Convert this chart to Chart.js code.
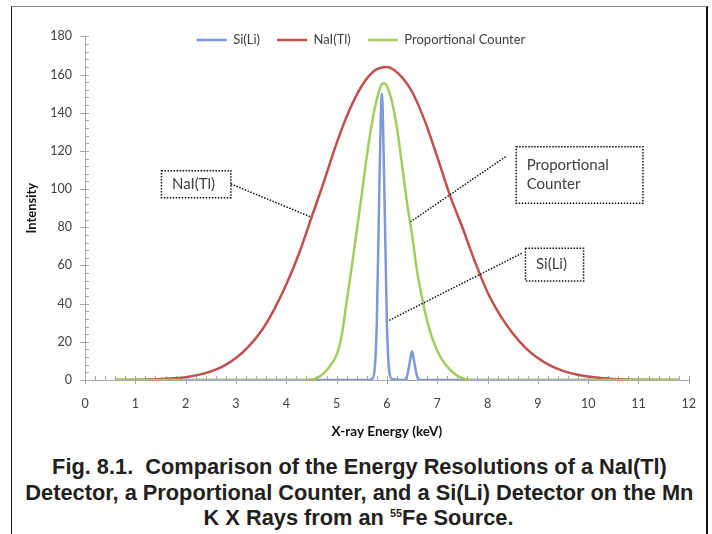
<!DOCTYPE html>
<html>
<head>
<meta charset="utf-8">
<script src="https://cdn.jsdelivr.net/npm/chart.js@4.4.1/dist/chart.umd.min.js"></script>
<style>
    body { margin: 0; background: #fff; }
    .page { position: relative; width: 712px; height: 534px; overflow: hidden; }
    .frame {
        position: absolute; left: 11px; top: 6px; width: 694px; height: 600px;
        border-left: 1.5px solid #111; border-top: 1.5px solid #8a8a8a; border-right: 2.5px solid #111;
    }
    #fig { position: absolute; left: 0; top: 0; }
    .caption {
        position: absolute; left: 11px; width: 696px; top: 454px;
        text-align: center; color: #231f20;
        font: bold 22px/25.5px "Liberation Sans", Arial, sans-serif;
    }
    .caption span { display: inline-block; transform: scaleX(0.99); }
    .caption sup { font-size: 11px; line-height: 0; vertical-align: 8px; }
</style>
</head>
<body>
<div class="page">
    <div class="frame"></div>
    <canvas id="fig" width="712" height="445"></canvas>
    <div class="caption"><span>Fig. 8.1.&nbsp; Comparison of the Energy Resolutions of a NaI(Tl)</span><br><span>Detector, a Proportional Counter, and a Si(Li) Detector on the Mn</span><br><span>K X Rays from an <sup>55</sup>Fe Source.</span></div>
</div>
<script>
// Series (energy in keV, intensity in counts)
const seriesNames = ['Si(Li)', 'NaI(Tl)', 'Proportional Counter'];

const siEnergy = [0.6, 5.65, 5.7, 5.75, 5.8, 5.85, 5.9, 5.95, 6.0, 6.05, 6.1, 6.35, 6.4, 6.45, 6.5, 6.55, 6.6, 6.65, 11.8];
const siCounts = [0, 0, 0.5, 4, 30, 100, 150, 100, 30, 4, 0.5, 0, 2, 8.5, 15, 8.5, 2, 0, 0];

const naiEnergy = [0.6, 1.0, 1.25, 1.5, 1.75, 2.0, 2.25, 2.5, 2.75, 3.0, 3.25, 3.5, 3.75, 4.0, 4.25, 4.5, 4.75, 5.0, 5.25, 5.5, 5.75, 6.0,
    6.25, 6.5, 6.75, 7.0, 7.25, 7.5, 7.75, 8.0, 8.25, 8.5, 8.75, 9.0, 9.25, 9.5, 9.75, 10.0, 10.25, 10.5, 11.0, 11.8];
const naiCounts = [0, 0.1, 0.2, 0.5, 0.9, 1.5, 2.7, 4.5, 7.3, 11.5, 17.5, 25.5, 36.5, 50, 66, 85, 104, 124, 141, 154, 162, 164,
    160, 151, 136, 117, 97, 80, 62, 46, 34, 24.5, 17, 11.5, 7.5, 4.8, 3, 1.8, 1, 0.5, 0.1, 0];

const propEnergy = [0.6, 4.4, 4.5, 4.6, 4.7, 4.8, 4.9, 5.0, 5.1, 5.2, 5.3, 5.4, 5.5, 5.6, 5.7, 5.8, 5.9, 5.95, 6.0,
    6.1, 6.2, 6.3, 6.4, 6.5, 6.6, 6.7, 6.8, 6.9, 7.0, 7.1, 7.2, 7.3, 7.4, 7.5, 7.6, 7.8, 11.8];
const propCounts = [0, 0, 0.3, 1, 2.5, 5, 8.5, 13, 23, 41, 59, 78, 97, 117, 134, 147, 155, 155.5, 154,
    146, 132, 113, 93, 76, 57, 43, 31, 22, 15.5, 10.5, 7, 4.3, 2.2, 1, 0.3, 0, 0];

const energyTicks = [0, 1, 2, 3, 4, 5, 6, 7, 8, 9, 10, 11, 12];
const intensityTicks = [0, 20, 40, 60, 80, 100, 120, 140, 160, 180];

// Callout boxes, in data units: box = [x1, y1, x2, y2]
const callouts = [
    { text: ['NaI(Tl)'], box: [1.52, 109.6, 2.9, 95.5], from: [2.9, 102.7], to: [4.48, 85.5] },
    { text: ['Proportional', 'Counter'], box: [8.57, 122.2, 11.09, 92.6], from: [8.36, 117], to: [6.47, 82.9] },
    { text: ['Si(Li)'], box: [8.755, 69, 9.91, 51.9], from: [8.68, 66.4], to: [6.02, 30.9] }
];

const axisGrey = '#a8a8a8';
const labelColor = '#404040';
const toPoints = (xs, ys) => xs.map((v, i) => ({ x: v, y: ys[i] }));

Chart.defaults.font.family = 'Lato, "Open Sans", sans-serif';

// minor / major tick marks, Excel style
const axisTicks = {
    id: 'axisTicks',
    beforeDatasetsDraw(chart) {
        const { ctx, chartArea, scales: { x, y } } = chart;
        ctx.save();
        ctx.strokeStyle = axisGrey;
        ctx.lineWidth = 1;
        ctx.beginPath();
        for (let i = 0; i <= 60; i++) {
            const px = Math.round(x.getPixelForValue(i * 0.2)) + 0.5;
            ctx.moveTo(px, chartArea.bottom - 4);
            ctx.lineTo(px, chartArea.bottom + (i % 5 === 0 ? 4 : 0));
        }
        for (let j = 0; j <= 45; j++) {
            const py = Math.round(y.getPixelForValue(j * 4)) + 0.5;
            ctx.moveTo(chartArea.left - (j % 5 === 0 ? 5 : 0), py);
            ctx.lineTo(chartArea.left + 4, py);
        }
        ctx.stroke();
        ctx.restore();
    }
};

const calloutPlugin = {
    id: 'callouts',
    afterDatasetsDraw(chart) {
        const { ctx, scales: { x, y } } = chart;
        ctx.save();
        callouts.forEach(c => {
            const left = x.getPixelForValue(c.box[0]);
            const top = y.getPixelForValue(c.box[1]);
            const right = x.getPixelForValue(c.box[2]);
            const bottom = y.getPixelForValue(c.box[3]);
            ctx.setLineDash([1.5, 1.5]);
            ctx.lineWidth = 1.5;
            ctx.strokeStyle = '#111';
            ctx.strokeRect(left, top, right - left, bottom - top);
            ctx.beginPath();
            ctx.moveTo(x.getPixelForValue(c.from[0]), y.getPixelForValue(c.from[1]));
            ctx.lineTo(x.getPixelForValue(c.to[0]), y.getPixelForValue(c.to[1]));
            ctx.stroke();
            ctx.setLineDash([]);
            ctx.fillStyle = labelColor;
            ctx.font = '15px Lato';
            ctx.textAlign = 'left';
            ctx.textBaseline = 'middle';
            const mid = (top + bottom) / 2;
            c.text.forEach((t, i) => ctx.fillText(t, left + 10.5, mid + (i - (c.text.length - 1) / 2) * 19));
        });
        ctx.restore();
    }
};

// the legend takes no layout room; put its box over the top of the plot, centred like the original
const legendShift = {
    id: 'legendShift',
    afterLayout(chart) {
        const lg = chart.legend;
        lg.top = 16.5;
        lg.bottom = 63;
        lg.height = 46.5;
        lg.left += 14;
        lg.right += 14;
    }
};

new Chart(document.getElementById('fig'), {
    type: 'line',
    data: {
        datasets: [
            { label: seriesNames[0], data: toPoints(siEnergy, siCounts), borderColor: '#7d99d6', order: 3 },
            { label: seriesNames[1], data: toPoints(naiEnergy, naiCounts), borderColor: '#c0504d', order: 2 },
            { label: seriesNames[2], data: toPoints(propEnergy, propCounts), borderColor: '#a2cd5e', order: 1 }
        ]
    },
    options: {
        responsive: false,
        animation: false,
        layout: { padding: { left: 0, right: 18, top: 35.4, bottom: 0 } },
        datasets: {
            line: {
                borderWidth: 2.5,
                pointRadius: 0,
                pointStyle: 'line',
                fill: false,
                cubicInterpolationMode: 'monotone'
            }
        },
        plugins: {
            tooltip: { enabled: false },
            legend: {
                position: 'top',
                maxHeight: 1,
                labels: {
                    usePointStyle: true,
                    pointStyle: 'line',
                    pointStyleWidth: 30,
                    padding: 17,
                    color: labelColor,
                    font: { size: 13 },
                    sort: (a, b) => a.datasetIndex - b.datasetIndex
                }
            }
        },
        scales: {
            x: {
                type: 'linear',
                min: 0,
                max: 12,
                afterBuildTicks: s => { s.ticks = energyTicks.map(v => ({ value: v })); },
                afterFit: s => { s.height = 65; },
                grid: { display: false, drawTicks: false },
                border: { color: axisGrey },
                ticks: { padding: 16, color: labelColor, font: { size: 12.5 } },
                title: {
                    display: true,
                    text: 'X-ray Energy (keV)',
                    color: '#111',
                    font: { size: 13.5, weight: 'bold' },
                    padding: { top: 0, bottom: 5 }
                }
            },
            y: {
                min: 0,
                max: 180,
                afterBuildTicks: s => { s.ticks = intensityTicks.map(v => ({ value: v })); },
                afterFit: s => { s.width = 85; },
                grid: { display: false, drawTicks: false },
                border: { color: axisGrey },
                ticks: { padding: 13, color: labelColor, font: { size: 12.5 } },
                title: {
                    display: true,
                    text: 'Intensity',
                    color: '#111',
                    font: { size: 13, weight: 'bold' },
                    padding: { top: 24, bottom: 0 }
                }
            }
        }
    },
    plugins: [axisTicks, calloutPlugin, legendShift]
});
</script>
</body>
</html>
